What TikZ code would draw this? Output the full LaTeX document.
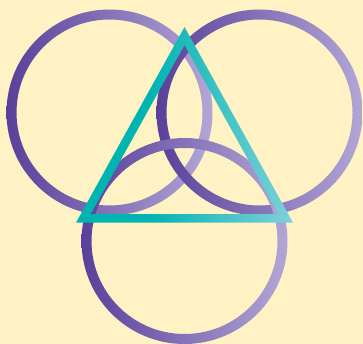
\documentclass[tikz,border=0pt]{standalone}
\definecolor{trBack}{HTML}{FFF2C4}
\definecolor{trPlum}{HTML}{59409A}
\definecolor{trLilac}{HTML}{B2A6D6}
\definecolor{trTeal}{HTML}{00B4B2}
\definecolor{trAqua}{HTML}{80D1DA}
\pgfdeclarehorizontalshading{trTealShade}{100bp}{color(0bp)=(trTeal); color(25bp)=(trTeal); color(42bp)=(trTeal); color(75bp)=(trAqua); color(100bp)=(trAqua)}
\tikzset{
  tr ring/.style={even odd rule, left color=trPlum, right color=trLilac},
  tr frame/.style={even odd rule, shading=trTealShade},
}

\begin{document}
\begin{tikzpicture}[x=1pt, y=-1pt]
  % Background and page size
  \fill[trBack] (0,0) rectangle (363,344);
  \useasboundingbox (0,0) rectangle (363,344);

  % Three rings: left, right, then the lower one on top
  \shade[tr ring] (109.5,112.5) circle [radius=103pt] (109.5,112.5) circle [radius=93pt];
  \shade[tr ring] (259.5,112.5) circle [radius=103pt] (259.5,112.5) circle [radius=93pt];
  \shade[tr ring] (184.5,241) circle [radius=103pt] (184.5,241) circle [radius=93pt];

  % Triangle frame over everything
  \shade[tr frame] (184.5,27) -- (76,222.7) -- (293,222.7) -- cycle
                   (184.5,44.9) -- (90.75,214) -- (278.25,214) -- cycle;
\end{tikzpicture}
\end{document}
